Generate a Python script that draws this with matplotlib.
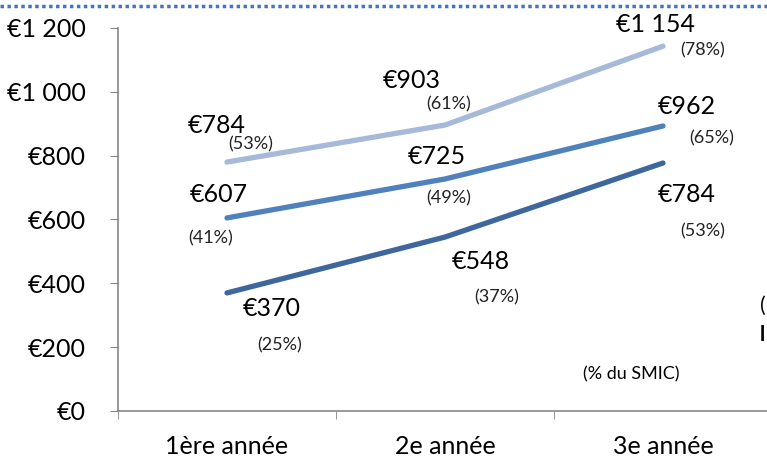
import matplotlib
matplotlib.use("Agg")
import matplotlib.pyplot as plt
from matplotlib.lines import Line2D
from matplotlib.ticker import FixedLocator

plt.rcParams['font.family'] = ['Lato', 'DejaVu Sans']

# data
categories = ['1ère année', '2e année', '3e année']
light_vals = [780, 896, 1143]
mid_vals = [605, 727, 893]
dark_vals = [370, 545, 777]

# label texts as printed on the chart
light_labels = ['€784', '€903', '€1 154']
light_pcts = ['(53%)', '(61%)', '(78%)']
mid_labels = ['€607', '€725', '€962']
mid_pcts = ['(41%)', '(49%)', '(65%)']
dark_labels = ['€370', '€548', '€784']
dark_pcts = ['(25%)', '(37%)', '(53%)']
y_ticks = [0, 200, 400, 600, 800, 1000, 1200]
y_ticklabels = ['€0', '€200', '€400', '€600', '€800', '€1 000', '€1 200']

fig = plt.figure(figsize=(7.67, 4.58), dpi=100)
ax = fig.add_axes([118 / 767, 47 / 458, 654 / 767, 383 / 458])

x = list(range(len(categories)))
# (values, colour, labels, percentages, label offsets px, percentage offsets px)
series = [
    (light_vals, '#a7b9d8', light_labels, light_pcts,
     [(-10, 37), (-33, 45), (-8, 22)], [(24, 18), (4, 21), (40, -4)]),
    (mid_vals, '#4f81bd', mid_labels, mid_pcts,
     [(-8, 23), (-8, 22), (24, 19)], [(-16, -20), (4, -19), (49, -12)]),
    (dark_vals, '#3d679d', dark_labels, dark_pcts,
     [(45, -16), (36, -24), (24, -31)], [(53, -52), (52, -60), (40, -68)]),
]

for vals, color, labels, pcts, loff, poff in series:
    ax.plot(x, vals, color=color, lw=3.8, solid_capstyle='round',
            solid_joinstyle='round')
    for i, v in enumerate(vals):
        ax.annotate(labels[i], (x[i], v), xytext=loff[i], textcoords='offset pixels',
                    ha='center', va='center', fontsize=18, color='black')
        ax.annotate(pcts[i], (x[i], v), xytext=poff[i], textcoords='offset pixels',
                    ha='center', va='center', fontsize=13, color='#222222')

ax.set_xlim(-0.5, 2.5)
ax.set_ylim(0, 1200)
ax.set_xticks(x)
ax.set_xticklabels(categories, fontsize=18)
ax.xaxis.set_minor_locator(FixedLocator([-0.5, 0.5, 1.5, 2.5]))
ax.tick_params(axis='x', which='major', length=0, pad=17)
ax.tick_params(axis='x', which='minor', length=6, color='#868686', direction='out')
ax.set_yticks(y_ticks)
ax.set_yticklabels(y_ticklabels, fontsize=18)
ax.tick_params(axis='y', length=6, color='#868686', direction='out', pad=17)

for s in ['top', 'right']:
    ax.spines[s].set_visible(False)
for s in ['left', 'bottom']:
    ax.spines[s].set_color('#868686')
    ax.spines[s].set_linewidth(1.2)

fig.text(631 / 767, 84 / 458, '(% du SMIC)', ha='center', va='center', fontsize=13)
# partly cut-off text at the right edge
fig.text(760 / 767, 152 / 458, '(', ha='left', va='center', fontsize=15)
fig.text(760 / 767, 123 / 458, 'l', ha='left', va='center', fontsize=15,
         fontweight='bold')

# dotted border line at the top
fig.add_artist(Line2D([0, 1], [452 / 458, 452 / 458], transform=fig.transFigure,
                      color='#4472c4', lw=2.5, linestyle=(0, (1, 1))))

fig.savefig('out.png', dpi=100)
